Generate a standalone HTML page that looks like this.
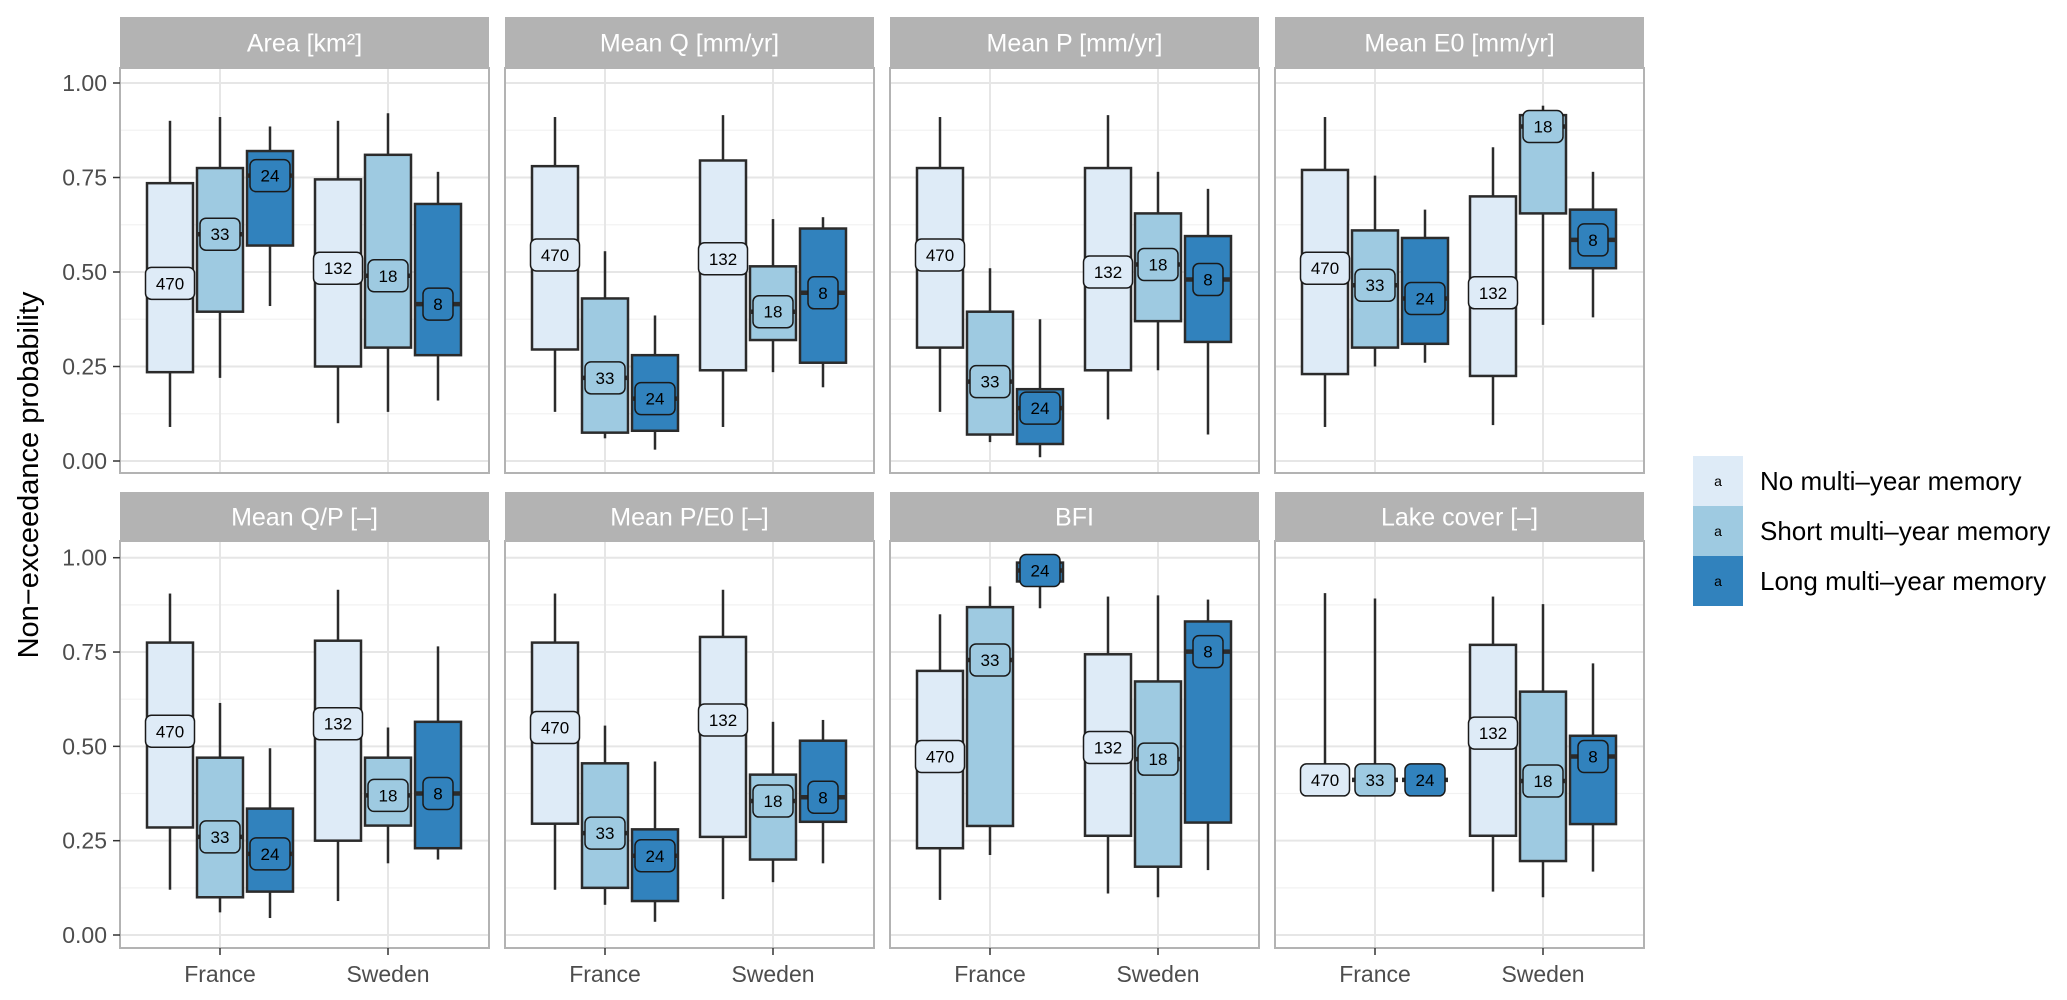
<!DOCTYPE html>
<html><head><meta charset="utf-8"><style>
body{margin:0;background:#fff;}
svg{display:block;font-family:"Liberation Sans",sans-serif;}
</style></head><body>
<svg id="chart" width="2067" height="1000" viewBox="0 0 2067 1000"></svg>
<script>
const panelTitles=["Area [km²]","Mean Q [mm/yr]","Mean P [mm/yr]","Mean E0 [mm/yr]","Mean Q/P [–]","Mean P/E0 [–]","BFI","Lake cover [–]"];
const countries=["France","Sweden"];
const groups=["No multi–year memory","Short multi–year memory","Long multi–year memory"];
const counts=["470","33","24","132","18","8"];
const yTicks=[0,0.25,0.5,0.75,1];
const yTickLabels=["0.00","0.25","0.50","0.75","1.00"];
// per panel: France No, Short, Long, Sweden No, Short, Long
const whiskerLo=[[0.09,0.22,0.41,0.10,0.13,0.16],[0.13,0.06,0.03,0.09,0.235,0.195],[0.13,0.05,0.01,0.11,0.24,0.07],[0.09,0.25,0.26,0.095,0.36,0.38],[0.12,0.06,0.045,0.09,0.19,0.20],[0.12,0.08,0.035,0.095,0.14,0.19],[0.093,0.212,0.866,0.11,0.10,0.172],[0.411,0.411,0.411,0.115,0.10,0.168]];
const boxQ1=[[0.235,0.395,0.57,0.25,0.30,0.28],[0.295,0.075,0.08,0.24,0.32,0.26],[0.30,0.07,0.045,0.24,0.37,0.315],[0.23,0.30,0.31,0.225,0.655,0.51],[0.285,0.10,0.115,0.25,0.29,0.23],[0.295,0.125,0.09,0.26,0.20,0.30],[0.23,0.289,0.937,0.263,0.181,0.298],[0.411,0.411,0.411,0.263,0.196,0.294]];
const medians=[[0.47,0.60,0.755,0.51,0.49,0.415],[0.545,0.22,0.165,0.535,0.395,0.445],[0.545,0.21,0.14,0.50,0.52,0.48],[0.51,0.465,0.43,0.445,0.885,0.585],[0.54,0.26,0.215,0.56,0.37,0.375],[0.55,0.27,0.21,0.57,0.355,0.365],[0.473,0.729,0.966,0.497,0.466,0.751],[0.411,0.411,0.411,0.535,0.408,0.473]];
const boxQ3=[[0.735,0.775,0.82,0.745,0.81,0.68],[0.78,0.43,0.28,0.795,0.515,0.615],[0.775,0.395,0.19,0.775,0.655,0.595],[0.77,0.61,0.59,0.70,0.915,0.665],[0.775,0.47,0.335,0.78,0.47,0.565],[0.775,0.455,0.28,0.79,0.425,0.515],[0.70,0.869,0.987,0.744,0.672,0.831],[0.411,0.411,0.411,0.769,0.645,0.528]];
const whiskerHi=[[0.90,0.91,0.885,0.90,0.92,0.765],[0.91,0.555,0.385,0.915,0.64,0.645],[0.91,0.51,0.375,0.915,0.765,0.72],[0.91,0.755,0.665,0.83,0.94,0.765],[0.905,0.615,0.495,0.915,0.55,0.765],[0.905,0.555,0.46,0.915,0.565,0.57],[0.85,0.924,0.987,0.897,0.90,0.889],[0.906,0.892,0.411,0.897,0.877,0.72]];

const fills=["#deebf7","#9ecae1","#3182bd"];
const svg=document.getElementById('chart');
const NS="http://www.w3.org/2000/svg";
function mk(tag,attrs,parent){const e=document.createElementNS(NS,tag);for(const k in attrs)e.setAttribute(k,attrs[k]);(parent||svg).appendChild(e);return e;}
const panelX=[120,505,890,1275], panelW=369;
const rows=[{stripTop:17,stripBot:68,y1:83,y0:461,bot:473},{stripTop:492,stripBot:541,y1:557.7,y0:935,bot:948}];
const xOff=[100,268];
const dodge=50, boxW=46;

const yt=mk('text',{x:38,y:475,'font-size':29,fill:'#000','text-anchor':'middle',transform:'rotate(-90 38 475)'});
yt.textContent="Non−exceedance probability";



panelTitles.forEach((title,p)=>{
  const r=rows[Math.floor(p/4)], px=panelX[p%4];
  const yS=v=>r.y0-(r.y0-r.y1)*v;
  const g=mk('g',{});
  
  
  const strip=mk('rect',{x:px,y:r.stripTop,width:panelW,height:r.stripBot-r.stripTop,fill:'#b3b3b3'},g);
  
  
  const st=mk('text',{x:px+panelW/2,y:(r.stripTop+r.stripBot)/2+9,'font-size':25,fill:'#fff','text-anchor':'middle'},g);
  st.textContent=title;
  
  
  mk('rect',{x:px,y:r.stripBot,width:panelW,height:r.bot-r.stripBot,fill:'#fff'},g);
  for(let i=0;i<yTicks.length-1;i++){const v=(yTicks[i]+yTicks[i+1])/2;mk('line',{x1:px,x2:px+panelW,y1:yS(v),y2:yS(v),stroke:'#f2f2f2','stroke-width':1.2},g);}
  yTicks.forEach(v=>mk('line',{x1:px,x2:px+panelW,y1:yS(v),y2:yS(v),stroke:'#e6e6e6','stroke-width':2},g));
  xOff.forEach(o=>mk('line',{x1:px+o,x2:px+o,y1:r.stripBot,y2:r.bot,stroke:'#e6e6e6','stroke-width':2},g));
  for(let j=0;j<6;j++){
    const c=j%3, cx=px+xOff[Math.floor(j/3)]+(c-1)*dodge;
    const bg=mk('g',{},g);
    
    
    mk('line',{x1:cx,x2:cx,y1:yS(whiskerHi[p][j]),y2:yS(boxQ3[p][j]),stroke:'#2b2b2b','stroke-width':2.5},bg);
    mk('line',{x1:cx,x2:cx,y1:yS(boxQ1[p][j]),y2:yS(whiskerLo[p][j]),stroke:'#2b2b2b','stroke-width':2.5},bg);
    mk('rect',{x:cx-boxW/2,y:yS(boxQ3[p][j]),width:boxW,height:Math.max(0,yS(boxQ1[p][j])-yS(boxQ3[p][j])),fill:fills[c],stroke:'#2b2b2b','stroke-width':2.5},bg);
    mk('line',{x1:cx-boxW/2,x2:cx+boxW/2,y1:yS(medians[p][j]),y2:yS(medians[p][j]),stroke:'#2b2b2b','stroke-width':4.5},bg);
    const t=counts[j], lw=t.length==3?49:(t.length==2?40:30), ly=yS(medians[p][j]);
    mk('rect',{x:cx-lw/2,y:ly-16,width:lw,height:32,rx:6,fill:fills[c],stroke:'#1a1a1a','stroke-width':1.5},bg);
    const lt=mk('text',{x:cx,y:ly+6,'font-size':17,fill:'#000','text-anchor':'middle'},bg);
    lt.textContent=t;
    
    
  }
  mk('rect',{x:px,y:r.stripBot,width:panelW,height:r.bot-r.stripBot,fill:'none',stroke:'#b3b3b3','stroke-width':2},g);
  if(p%4===0){
    yTicks.forEach((v,i)=>{
      mk('line',{x1:px-7,x2:px,y1:yS(v),y2:yS(v),stroke:'#333','stroke-width':1.5},g);
      const tl=mk('text',{x:px-13,y:yS(v)+8,'font-size':23,fill:'#4d4d4d','text-anchor':'end'},g);
      tl.textContent=yTickLabels[i];
      
      
    });
  }
  if(p>=4){
    countries.forEach((cn,i)=>{
      mk('line',{x1:px+xOff[i],x2:px+xOff[i],y1:r.bot,y2:r.bot+7,stroke:'#333','stroke-width':1.5},g);
      const xl=mk('text',{x:px+xOff[i],y:r.bot+34,'font-size':23,fill:'#4d4d4d','text-anchor':'middle'},g);
      xl.textContent=cn;
      
      
    });
  }
});

groups.forEach((gname,i)=>{
  const y=456+i*50;
  const lg=mk('g',{});
  
  
  mk('rect',{x:1693,y:y,width:50,height:50,fill:fills[i]},lg);
  const a=mk('text',{x:1718,y:y+30,'font-size':14,fill:'#000','text-anchor':'middle'},lg);
  a.textContent="a";
  const lt=mk('text',{x:1760,y:y+34,'font-size':26,fill:'#000'},lg);
  lt.textContent=gname;
});
</script>
</body></html>
